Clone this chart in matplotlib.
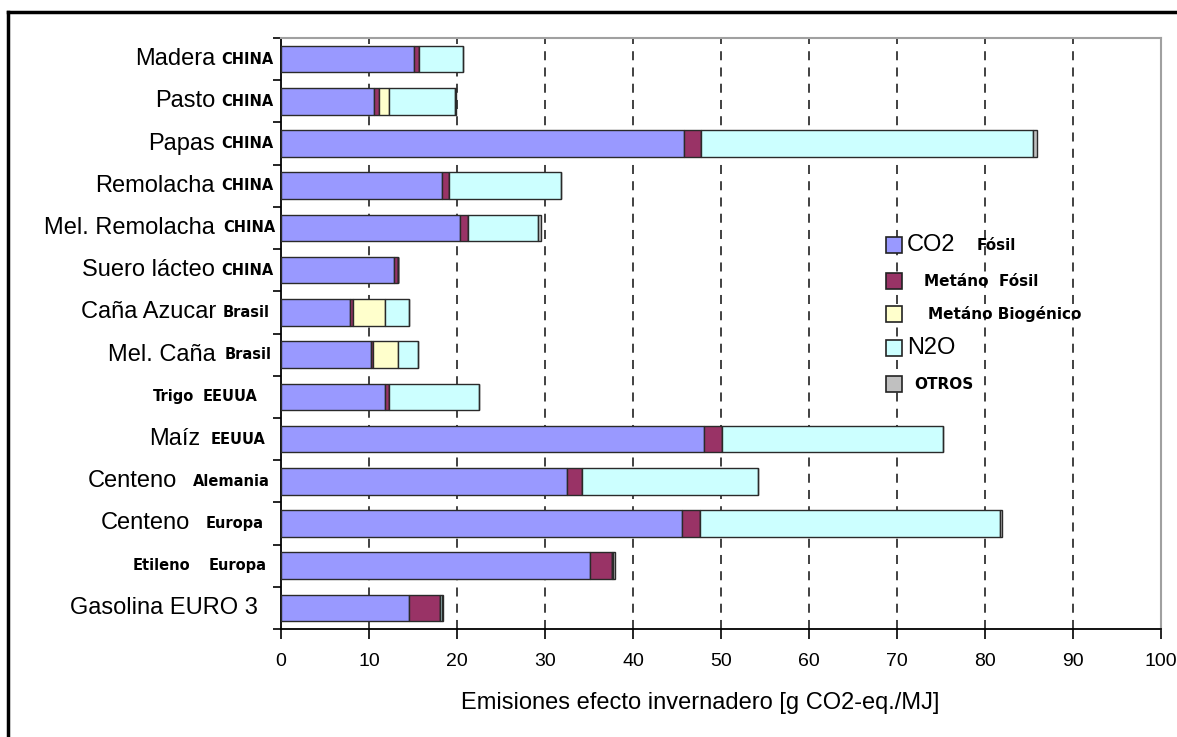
import matplotlib
matplotlib.use("Agg")
import matplotlib.pyplot as plt
import matplotlib.transforms as mtransforms
from matplotlib.patches import Rectangle
from matplotlib.lines import Line2D
import numpy as np

# ---------------- data ----------------
main_names = ["Madera", "Pasto", "Papas", "Remolacha", "Mel. Remolacha", "Suero lácteo",
              "Caña Azucar", "Mel. Caña", "Trigo", "Maíz", "Centeno", "Centeno",
              "Etileno", "Gasolina EURO 3"]
countries = ["CHINA", "CHINA", "CHINA", "CHINA", "CHINA", "CHINA",
             "Brasil", "Brasil", "EEUUA", "EEUUA", "Alemania", "Europa",
             "Europa", ""]
co2_fosil = [15.1, 10.6, 45.8, 18.3, 20.3, 12.8, 7.8, 10.2, 11.8, 48.1, 32.5, 45.6, 35.1, 14.5]
metano_fosil = [0.6, 0.5, 1.9, 0.75, 1.0, 0.5, 0.4, 0.3, 0.5, 2.0, 1.7, 2.0, 2.5, 3.6]
metano_biogenico = [0, 1.2, 0, 0, 0, 0, 3.65, 2.8, 0, 0, 0, 0, 0, 0]
n2o = [5.0, 7.5, 37.7, 12.75, 7.9, 0.0, 2.75, 2.3, 10.2, 25.1, 20.0, 34.1, 0.15, 0.15]
otros = [0, 0.1, 0.5, 0, 0.3, 0, 0, 0, 0, 0, 0, 0.2, 0.2, 0.15]

series = [co2_fosil, metano_fosil, metano_biogenico, n2o, otros]
colors = ["#9999FF", "#993366", "#FFFFCC", "#CCFFFF", "#C0C0C0"]
x_ticks = [0, 10, 20, 30, 40, 50, 60, 70, 80, 90, 100]
x_label = "Emisiones efecto invernadero [g CO2-eq./MJ]"

# label layout (pixel right edges of text pieces) and styles
main_right_px = [215, 215, 215, 215, 215, 215, 216, 216, 194, 200, 177, 190, 190, 258]
country_right_px = [273, 273, 273, 273, 275, 273, 270, 272, 258, 266, 270, 264, 267, 258]
main_bold = [False] * 8 + [True, False, False, False, True, False]

W, H = 1177, 737
fig = plt.figure(figsize=(W / 100, H / 100), dpi=100)
ax_l, ax_r, ax_t, ax_b = 281, 1161, 38, 629
ax = fig.add_axes([ax_l / W, 1 - ax_b / H, (ax_r - ax_l) / W, (ax_b - ax_t) / H])

n = len(main_names)
ypos = np.arange(n)
left = np.zeros(n)
for vals, col in zip(series, colors):
    vals = np.array(vals, dtype=float)
    ax.barh(ypos, vals, left=left, height=0.63, color=col, edgecolor="#2a2a2a",
            linewidth=1.0, zorder=3)
    left += vals

ax.set_xlim(0, 100)
ax.set_ylim(n - 0.5, -0.5)
ax.set_xticks(x_ticks)
ax.set_xticklabels([str(t) for t in x_ticks], fontfamily="Liberation Sans", fontsize=14)
ax.set_yticks(np.arange(-0.5, n, 1.0))
ax.set_yticklabels([])
ax.tick_params(axis="y", direction="out", length=6, width=1.2, color="black")
ax.tick_params(axis="x", direction="out", length=7, width=1.2, color="black", pad=10)
for t in x_ticks[1:-1]:
    ax.axvline(t, color="#333333", linestyle=(0, (5, 4)), linewidth=1.3, zorder=1)

ax.spines["left"].set_color("black")
ax.spines["left"].set_linewidth(1.3)
ax.spines["bottom"].set_color("black")
ax.spines["bottom"].set_linewidth(1.3)
ax.spines["top"].set_color("#a0a0a0")
ax.spines["top"].set_linewidth(1.5)
ax.spines["right"].set_color("#a0a0a0")
ax.spines["right"].set_linewidth(1.5)

ax.set_xlabel(x_label, fontfamily="Liberation Sans", fontsize=17, labelpad=18)
ax.xaxis.set_label_coords((700 - ax_l) / (ax_r - ax_l), -(703 - ax_b) / (ax_b - ax_t))
ax.xaxis.label.set_va("center")

# category labels
base = mtransforms.blended_transform_factory(ax.transAxes, ax.transData)
for i in range(n):
    tr = mtransforms.offset_copy(base, fig=fig, x=main_right_px[i] - ax_l, y=0, units="dots")
    if main_bold[i]:
        ax.text(0, ypos[i], main_names[i], transform=tr, ha="right", va="center",
                fontfamily="DejaVu Sans", fontweight="bold", fontsize=10.5, clip_on=False)
    else:
        ax.text(0, ypos[i], main_names[i], transform=tr, ha="right", va="center",
                fontfamily="Liberation Sans", fontsize=17, clip_on=False)
    if countries[i]:
        tr = mtransforms.offset_copy(base, fig=fig, x=country_right_px[i] - ax_l, y=0, units="dots")
        ax.text(0, ypos[i], countries[i], transform=tr, ha="right", va="center",
                fontfamily="DejaVu Sans", fontweight="bold", fontsize=10.5, clip_on=False)

# overlay in pixel coordinates for legend and frame
ov = fig.add_axes([0, 0, 1, 1], facecolor="none")
ov.set_xlim(0, W)
ov.set_ylim(H, 0)
ov.axis("off")
ov.add_line(Line2D([8, 8], [12, H + 5], color="black", linewidth=2.5))
ov.add_line(Line2D([8, W + 5], [12, 12], color="black", linewidth=2.5))

leg_y = [245, 281, 314, 348, 384]
for y, col in zip(leg_y, colors):
    ov.add_patch(Rectangle((886, y - 8), 16, 16, facecolor=col, edgecolor="#222222", linewidth=1.2))
ov.text(907, leg_y[0], "CO2", fontfamily="Liberation Sans", fontsize=17, va="center", ha="left")
ov.text(977, leg_y[0], "Fósil", fontfamily="DejaVu Sans", fontweight="bold", fontsize=11, va="center", ha="left")
ov.text(924, leg_y[1], "Metáno  Fósil", fontfamily="DejaVu Sans", fontweight="bold", fontsize=11, va="center", ha="left")
ov.text(928, leg_y[2], "Metáno Biogénico", fontfamily="DejaVu Sans", fontweight="bold", fontsize=11, va="center", ha="left")
ov.text(907, leg_y[3], "N2O", fontfamily="Liberation Sans", fontsize=17, va="center", ha="left")
ov.text(914, leg_y[4], "OTROS", fontfamily="DejaVu Sans", fontweight="bold", fontsize=11, va="center", ha="left")

fig.savefig("out.png", dpi=100)
